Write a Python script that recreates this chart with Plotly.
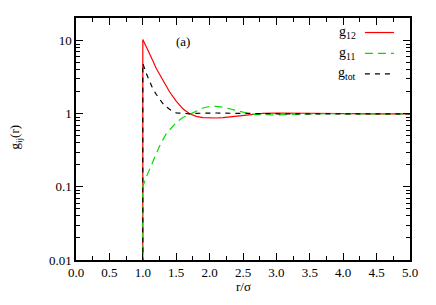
import plotly.graph_objects as go

r = [1.0, 1.0, 1.05, 1.1, 1.15, 1.2, 1.25, 1.3, 1.35, 1.4, 1.5, 1.6, 1.7, 1.8, 1.9,
     2.0, 2.1, 2.2, 2.3, 2.4, 2.5, 2.6, 2.7, 2.8, 3.0, 3.2, 3.4, 3.6, 3.8, 4.0, 4.5, 5.0]
g12 = [1e-6, 10.4, 8.3, 6.8, 5.3, 4.2, 3.45, 2.85, 2.35, 2.0, 1.49, 1.17, 1.0, 0.92, 0.885,
       0.875, 0.875, 0.885, 0.905, 0.93, 0.955, 0.98, 1.0, 1.015, 1.025, 1.02, 1.012, 1.005, 1.0, 1.0, 1.0, 1.0]
g11 = [1e-6, 0.1, 0.135, 0.175, 0.225, 0.285, 0.36, 0.44, 0.53, 0.6, 0.76, 0.89, 0.98, 1.08, 1.2,
       1.26, 1.265, 1.23, 1.17, 1.11, 1.05, 1.0, 0.975, 0.965, 0.965, 0.98, 0.995, 1.003, 1.004, 1.0, 1.0, 1.0]
gtot = [1e-6, 4.9, 3.6, 2.85, 2.2, 1.85, 1.57, 1.38, 1.25, 1.15, 1.03, 1.01, 1.0, 1.015, 1.025,
        1.028, 1.025, 1.02, 1.015, 1.01, 1.005, 1.0, 1.0, 1.0, 1.0, 1.0, 1.0, 1.0, 1.0, 1.0, 1.0, 1.0]

series = [
    ("g<sub>12</sub>", g12, "#ff0000", "solid"),
    ("g<sub>11</sub>", g11, "#00e000", "8px,5px"),
    ("g<sub>tot</sub>", gtot, "#000000", "5px,5px"),
]

x_ticks = [0.0, 0.5, 1.0, 1.5, 2.0, 2.5, 3.0, 3.5, 4.0, 4.5, 5.0]
y_ticks = [0.01, 0.1, 1, 10]
y_ticktext = ["0.01", "0.1", "1", "10"]

FONT = "Liberation Serif, DejaVu Serif, serif"
FS = 13

fig = go.Figure()
for name, ys, color, dash in series:
    fig.add_trace(go.Scatter(x=r, y=ys, mode="lines", name=name,
                             line=dict(color=color, width=1.2, dash=dash),
                             showlegend=False))

# manual legend (text left of sample line, like the original)
leg_y = [0.940, 0.854, 0.769]
for (name, ys, color, dash), yy in zip(series, leg_y):
    fig.add_annotation(xref="paper", yref="paper", x=0.844, y=yy, text=name,
                       showarrow=False, xanchor="right", yanchor="middle",
                       font=dict(family=FONT, size=FS + 1, color="black"))
    fig.add_shape(type="line", xref="paper", yref="paper", x0=0.865, x1=0.952,
                  y0=yy, y1=yy, line=dict(color=color, width=1.2, dash=dash))

fig.add_annotation(x=1.6, y=0.99, xref="x", yref="y", text="(a)", showarrow=False,
                   font=dict(family=FONT, size=FS, color="black"))

# axis titles placed as in the original
fig.add_annotation(xref="paper", yref="paper", x=0.5, y=-0.108, text="r/σ",
                   showarrow=False, xanchor="center", yanchor="middle",
                   font=dict(family=FONT, size=FS, color="black"))
fig.add_annotation(xref="paper", yref="paper", x=-0.18, y=0.51, text="g<sub>ij</sub>(r)",
                   showarrow=False, xanchor="center", yanchor="middle", textangle=-90,
                   font=dict(family=FONT, size=FS, color="black"))

# page body has an 8px margin: shrink the figure so the plot sits where the original does
fig.update_layout(
    width=428, height=297,
    margin=dict(l=68, r=26, t=8, b=45),
    paper_bgcolor="white", plot_bgcolor="white",
    font=dict(family=FONT, size=FS, color="black"),
)
fig.update_xaxes(range=[0, 5], tickvals=x_ticks, ticktext=[f"{v:.1f}" for v in x_ticks],
                 ticks="inside", ticklen=7, tickwidth=1, tickcolor="black",
                 minor=dict(ticks="inside", ticklen=4, dtick=0.25, tickcolor="black", showgrid=False),
                 showline=True, linecolor="black", linewidth=1.5, mirror="ticks",
                 showgrid=False, zeroline=False)
fig.update_yaxes(type="log", range=[-2, 1.31], tickvals=y_ticks, ticktext=y_ticktext,
                 ticks="inside", ticklen=7, tickwidth=1, tickcolor="black",
                 minor=dict(ticks="inside", ticklen=4, dtick="D1", tickcolor="black", showgrid=False),
                 showline=True, linecolor="black", linewidth=1.5, mirror="ticks",
                 showgrid=False, zeroline=False)

fig.write_html("out.html")
